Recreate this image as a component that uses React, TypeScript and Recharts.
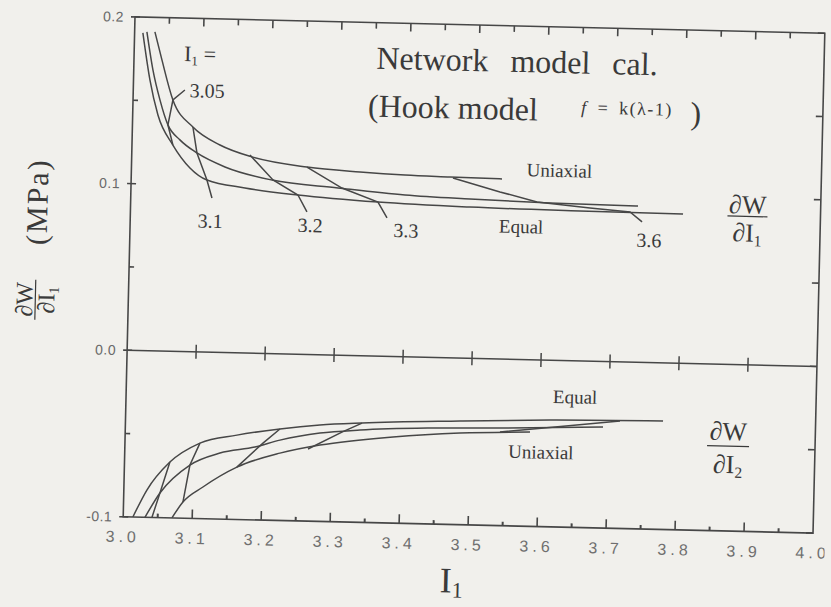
import React from 'react';
import { LineChart, Line, XAxis, YAxis, ReferenceLine, ReferenceArea } from 'recharts';

type Pt = { x: number; y: number };

// ---- dW/dI1 branches (upper panel) ----
const uniaxialDI1: Pt[] = [
  { x: 3.0294, y: 0.1913 }, { x: 3.0405, y: 0.1746 }, { x: 3.0578, y: 0.1507 }, { x: 3.0877, y: 0.1348 },
  { x: 3.1275, y: 0.1244 }, { x: 3.1742, y: 0.1177 }, { x: 3.2543, y: 0.1124 }, { x: 3.3313, y: 0.1102 },
  { x: 3.3966, y: 0.109 }, { x: 3.4619, y: 0.1085 }, { x: 3.5373, y: 0.108 },
];
const pureShearDI1: Pt[] = [
  { x: 3.0178, y: 0.1912 }, { x: 3.0278, y: 0.1685 }, { x: 3.039, y: 0.1506 }, { x: 3.0514, y: 0.1357 },
  { x: 3.0693, y: 0.1269 }, { x: 3.0944, y: 0.1193 }, { x: 3.1355, y: 0.1113 }, { x: 3.204, y: 0.1041 },
  { x: 3.3, y: 0.1003 }, { x: 3.3973, y: 0.097 }, { x: 3.4916, y: 0.0955 }, { x: 3.6077, y: 0.0943 },
  { x: 3.7353, y: 0.0937 },
];
const equalDI1: Pt[] = [
  { x: 3.012, y: 0.1905 }, { x: 3.0238, y: 0.1624 }, { x: 3.0366, y: 0.1415 }, { x: 3.0593, y: 0.1237 },
  { x: 3.0848, y: 0.1102 }, { x: 3.1098, y: 0.1032 }, { x: 3.1651, y: 0.099 }, { x: 3.2422, y: 0.0955 },
  { x: 3.3584, y: 0.0924 }, { x: 3.4919, y: 0.0907 }, { x: 3.6514, y: 0.0899 }, { x: 3.8008, y: 0.0895 },
];

// constant-I1 connectors across the upper branches (last point runs to the value tag)
const iso305Upper: Pt[] = [
  { x: 3.0748, y: 0.1569 }, { x: 3.0578, y: 0.1507 }, { x: 3.0514, y: 0.1357 }, { x: 3.0593, y: 0.1237 },
];
const iso31Upper: Pt[] = [
  { x: 3.0877, y: 0.1348 }, { x: 3.0944, y: 0.1193 }, { x: 3.1098, y: 0.1032 }, { x: 3.1177, y: 0.0925 },
];
const iso32Upper: Pt[] = [
  { x: 3.1713, y: 0.1188 }, { x: 3.2055, y: 0.1042 }, { x: 3.2422, y: 0.0955 }, { x: 3.2558, y: 0.0855 },
];
const iso33Upper: Pt[] = [
  { x: 3.2543, y: 0.1124 }, { x: 3.3057, y: 0.1003 }, { x: 3.3584, y: 0.0924 }, { x: 3.372, y: 0.083 },
];
const iso36Upper: Pt[] = [
  { x: 3.4662, y: 0.1079 }, { x: 3.5348, y: 0.1002 }, { x: 3.5888, y: 0.0947 }, { x: 3.6658, y: 0.0918 },
  { x: 3.7239, y: 0.09 }, { x: 3.7417, y: 0.0842 },
];

// ---- dW/dI2 branches (lower panel) ----
const equalDI2: Pt[] = [
  { x: 3.014, y: -0.1 }, { x: 3.0334, y: -0.0836 }, { x: 3.0658, y: -0.0665 }, { x: 3.1087, y: -0.0547 },
  { x: 3.162, y: -0.0494 }, { x: 3.2241, y: -0.0451 }, { x: 3.2819, y: -0.0422 }, { x: 3.3428, y: -0.0404 },
  { x: 3.4847, y: -0.0378 }, { x: 3.6151, y: -0.0359 }, { x: 3.7789, y: -0.0349 },
];
const pureShearDI2: Pt[] = [
  { x: 3.0315, y: -0.1 }, { x: 3.0524, y: -0.0852 }, { x: 3.0949, y: -0.068 }, { x: 3.138, y: -0.0604 },
  { x: 3.1884, y: -0.0563 }, { x: 3.2245, y: -0.0518 }, { x: 3.2822, y: -0.047 }, { x: 3.3401, y: -0.0446 },
  { x: 3.4414, y: -0.0424 }, { x: 3.5429, y: -0.0414 }, { x: 3.6921, y: -0.0394 },
];
const uniaxialDI2: Pt[] = [
  { x: 3.0706, y: -0.1 }, { x: 3.086, y: -0.0903 }, { x: 3.1145, y: -0.081 }, { x: 3.163, y: -0.0686 },
  { x: 3.2249, y: -0.0596 }, { x: 3.2826, y: -0.0542 }, { x: 3.3881, y: -0.0483 }, { x: 3.4851, y: -0.045 },
  { x: 3.5865, y: -0.0434 },
];

const iso305Lower: Pt[] = [
  { x: 3.0658, y: -0.0665 }, { x: 3.0524, y: -0.0852 }, { x: 3.0416, y: -0.1 },
];
const iso31Lower: Pt[] = [
  { x: 3.1087, y: -0.0547 }, { x: 3.0949, y: -0.068 }, { x: 3.086, y: -0.0903 },
];
const iso32Lower: Pt[] = [
  { x: 3.2241, y: -0.0451 }, { x: 3.2, y: -0.0538 }, { x: 3.163, y: -0.0686 },
];
const iso33Lower: Pt[] = [
  { x: 3.3428, y: -0.0404 }, { x: 3.314, y: -0.0461 }, { x: 3.2654, y: -0.0567 },
];
const iso36Lower: Pt[] = [
  { x: 3.7165, y: -0.0355 }, { x: 3.6226, y: -0.0401 }, { x: 3.543, y: -0.0438 },
];

// ---- axes ----
const xTicks = [3.0, 3.1, 3.2, 3.3, 3.4, 3.5, 3.6, 3.7, 3.8, 3.9, 4.0];
const xInnerTicks = [3.1, 3.2, 3.3, 3.4, 3.5, 3.6, 3.7, 3.8, 3.9];
const xMinorTicks = [3.05, 3.15, 3.25, 3.35, 3.45, 3.55, 3.65, 3.75, 3.85, 3.95];
const yTicks = [-0.1, 0.0, 0.1, 0.2];
const yAllTicks = [-0.1, -0.05, 0.0, 0.05, 0.1, 0.15, 0.2];

const X_MIN = 3.0;
const X_MAX = 4.0;
const Y_MIN = -0.1;
const Y_MAX = 0.2;

// chart layout
const W = 831;
const H = 607;
const PLOT = { left: 129, top: 25, width: 690, height: 500 };
const PX_Y = (Y_MAX - Y_MIN) / PLOT.height; // data units per pixel

// pixel position of an axis value, same linear mapping as the chart's plot area
const sx = (v: number) => PLOT.left + ((v - X_MIN) / (X_MAX - X_MIN)) * PLOT.width;
const sy = (v: number) => PLOT.top + ((Y_MAX - v) / (Y_MAX - Y_MIN)) * PLOT.height;

const INK = '#474747';
const TEXT = '#3a3a3a';
const SERIF = '"Liberation Serif", "Times New Roman", serif';
const SANS = '"Liberation Sans", Arial, sans-serif';

const curveProps = {
  dataKey: 'y',
  stroke: INK,
  strokeWidth: 1.5,
  dot: false,
  activeDot: false,
  isAnimationActive: false,
  legendType: 'none' as const,
};

function Frac({ cx, numBase, barY, denBase, size, sub, barW }: {
  cx: number; numBase: number; barY: number; denBase: number; size: number; sub: string; barW: number;
}) {
  return (
    <g fontFamily={SERIF} fill={TEXT}>
      <text x={cx} y={numBase} fontSize={size} textAnchor="middle">∂W</text>
      <line x1={cx - barW / 2} x2={cx + barW / 2} y1={barY} y2={barY} stroke={TEXT} strokeWidth={1.2} />
      <text x={cx} y={denBase} fontSize={size} textAnchor="middle">
        ∂I<tspan fontSize={size * 0.6} dy={size * 0.18}>{sub}</tspan>
      </text>
    </g>
  );
}

// inward tick rows along the four sides of the frame
function FrameTicks() {
  const top = sy(Y_MAX);
  const bottom = sy(Y_MIN);
  const left = sx(X_MIN);
  const right = sx(X_MAX);
  const seg = (k: string, x1: number, y1: number, x2: number, y2: number, w = 1.6) => (
    <line key={k} x1={x1} y1={y1} x2={x2} y2={y2} stroke={INK} strokeWidth={w} />
  );
  return (
    <g>
      {xInnerTicks.map((v) => seg(`b${v}`, sx(v), bottom, sx(v), bottom - 9))}
      {xMinorTicks.map((v) => seg(`bm${v}`, sx(v), bottom, sx(v), bottom - 4, 2))}
      {xInnerTicks.map((v) => seg(`t${v}`, sx(v), top, sx(v), top + 8))}
      {xMinorTicks.map((v) => seg(`tm${v}`, sx(v), top, sx(v), top + 6))}
      {yAllTicks.map((v) => seg(`l${v}`, left - (yTicks.includes(v) ? 4 : 0), sy(v), left + 5, sy(v)))}
      {yAllTicks.map((v) => seg(`r${v}`, right, sy(v), right - 7, sy(v)))}
    </g>
  );
}

export default function App() {
  // crossing ticks on the zero line
  const zeroTicks = xInnerTicks.map((v) => (
    <Line
      key={`z${v}`}
      data={[{ x: v, y: -7 * PX_Y }, { x: v, y: 7 * PX_Y }]}
      dataKey="y"
      type="linear"
      stroke={INK}
      strokeWidth={1.5}
      dot={false}
      activeDot={false}
      isAnimationActive={false}
      legendType="none"
    />
  ));

  return (
    <div
      style={{
        position: 'absolute', left: 0, top: 0, width: W, height: H,
        background: '#f1f0ec', overflow: 'hidden',
      }}
    >
      <div
        style={{
          position: 'absolute', left: 0, top: 0, width: W, height: H,
          transform: 'rotate(1.35deg)', transformOrigin: '474px 275px',
        }}
      >
        <LineChart
          width={W}
          height={H}
          margin={{ top: PLOT.top, right: W - PLOT.left - PLOT.width, bottom: 52, left: PLOT.left - 60 }}
        >
          <XAxis
            type="number"
            dataKey="x"
            domain={[X_MIN, X_MAX]}
            ticks={xTicks}
            interval={0}
            allowDataOverflow
            tickFormatter={(v: number) => v.toFixed(1)}
            axisLine={false}
            tickLine={false}
            tickSize={6}
            tickMargin={8}
            height={30}
            tick={{ fontSize: 16, fill: '#6f6f6f', fontFamily: SANS, letterSpacing: 4 }}
          />
          <YAxis
            type="number"
            domain={[Y_MIN, Y_MAX]}
            ticks={yTicks}
            interval={0}
            allowDataOverflow
            tickFormatter={(v: number) => v.toFixed(1)}
            axisLine={false}
            tickLine={false}
            tickSize={6}
            tickMargin={5}
            width={60}
            tick={{ fontSize: 14, fill: '#6a6a6a', fontFamily: SANS, letterSpacing: 0.5 }}
          />

          <ReferenceArea
            x1={X_MIN} x2={X_MAX} y1={Y_MIN} y2={Y_MAX}
            fill="none" fillOpacity={0} stroke={INK} strokeWidth={1.6} ifOverflow="visible"
          />
          <ReferenceLine y={0} stroke={INK} strokeWidth={1.5} />
          {zeroTicks}

          <Line {...curveProps} data={uniaxialDI1} type="monotone" />
          <Line {...curveProps} data={pureShearDI1} type="monotone" />
          <Line {...curveProps} data={equalDI1} type="monotone" />
          <Line {...curveProps} data={iso305Upper} type="linear" />
          <Line {...curveProps} data={iso31Upper} type="linear" />
          <Line {...curveProps} data={iso32Upper} type="linear" />
          <Line {...curveProps} data={iso33Upper} type="linear" />
          <Line {...curveProps} data={iso36Upper} type="linear" />

          <Line {...curveProps} data={equalDI2} type="monotone" />
          <Line {...curveProps} data={pureShearDI2} type="monotone" />
          <Line {...curveProps} data={uniaxialDI2} type="monotone" />
          <Line {...curveProps} data={iso305Lower} type="linear" />
          <Line {...curveProps} data={iso31Lower} type="linear" />
          <Line {...curveProps} data={iso32Lower} type="linear" />
          <Line {...curveProps} data={iso33Lower} type="linear" />
          <Line {...curveProps} data={iso36Lower} type="linear" />
        </LineChart>

        <svg
          width={W}
          height={H}
          style={{ position: 'absolute', left: 0, top: 0, pointerEvents: 'none' }}
        >
          <FrameTicks />
          <g fontFamily={SERIF} fill={TEXT}>
            {/* title block */}
            <text x={512} y={71} fontSize={32} textAnchor="middle" wordSpacing={14}>Network model cal.</text>
            <text x={449} y={119} fontSize={32} textAnchor="middle">(Hook model</text>
            <text x={623} y={111} fontSize={18} textAnchor="middle" letterSpacing={1.5} wordSpacing={4}>
              <tspan fontStyle="italic">f</tspan> = k(λ-1)
            </text>
            <text x={692} y={119} fontSize={32} textAnchor="middle">)</text>

            {/* constant-I1 tags */}
            <text x={195} y={68} fontSize={22} textAnchor="middle">
              I<tspan fontSize={13} dy={4}>1</tspan><tspan dy={-4}> =</tspan>
            </text>
            <text x={203} y={104} fontSize={20} textAnchor="middle">3.05</text>
            <text x={209} y={234} fontSize={20} textAnchor="middle">3.1</text>
            <text x={309} y={236} fontSize={20} textAnchor="middle">3.2</text>
            <text x={405} y={239} fontSize={20} textAnchor="middle">3.3</text>
            <text x={648} y={243} fontSize={20} textAnchor="middle">3.6</text>

            {/* branch names */}
            <text x={557} y={175} fontSize={19} textAnchor="middle">Uniaxial</text>
            <text x={520} y={232} fontSize={19} textAnchor="middle">Equal</text>
            <text x={578} y={401} fontSize={19} textAnchor="middle">Equal</text>
            <text x={545} y={457} fontSize={19} textAnchor="middle">Uniaxial</text>

            {/* axis titles */}
            <text x={447} y={593} fontSize={36} textAnchor="start">
              I<tspan fontSize={22} dy={5}>1</tspan>
            </text>
            <g transform="rotate(-90, 46, 212)">
              <text x={46} y={212} fontSize={30} textAnchor="middle" letterSpacing={2}>(MPa)</text>
            </g>
            <g transform="rotate(-90, 36, 310)">
              <Frac cx={36} numBase={307} barY={310} denBase={329} size={24} sub="1" barW={40} />
            </g>
          </g>
          <Frac cx={746} numBase={207} barY={210} denBase={235} size={26} sub="1" barW={40} />
          <Frac cx={732} numBase={434} barY={440} denBase={467} size={26} sub="2" barW={42} />
        </svg>
      </div>
    </div>
  );
}
